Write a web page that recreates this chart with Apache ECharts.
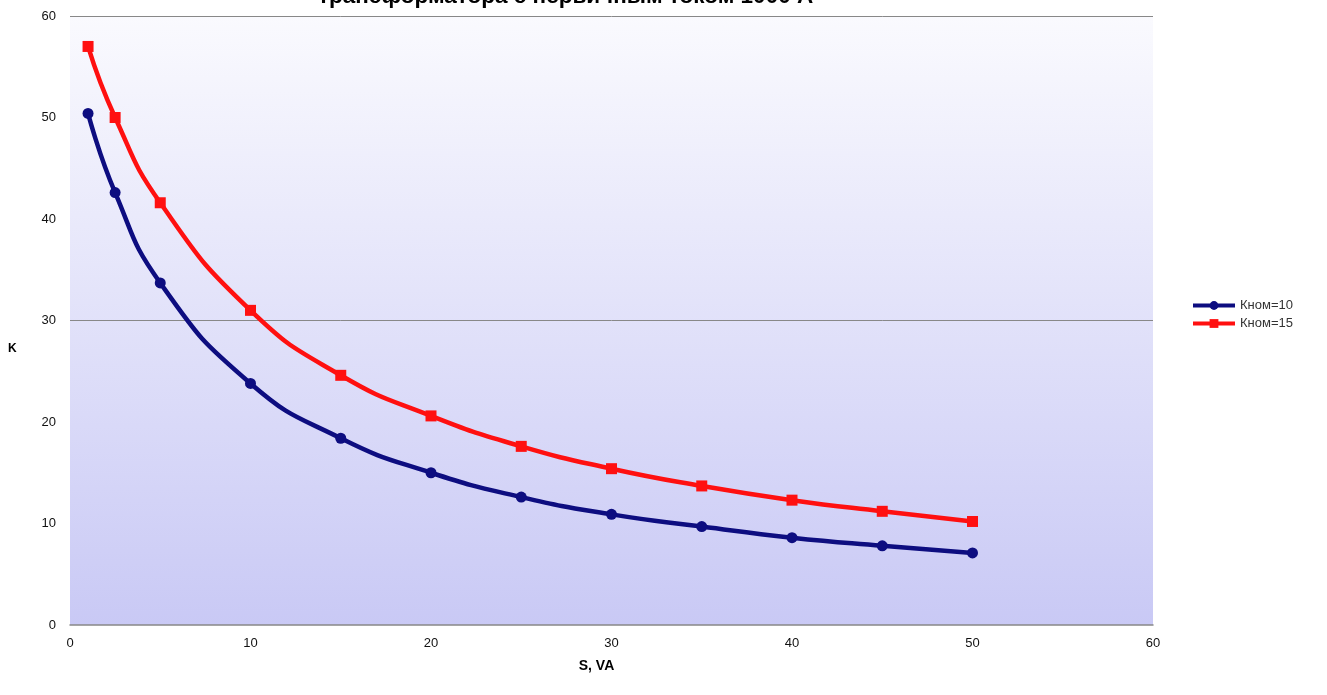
<!DOCTYPE html>
<html>
<head>
<meta charset="utf-8">
<script src="https://cdn.jsdelivr.net/npm/echarts@6/dist/echarts.min.js"></script>
<style>html,body{margin:0;padding:0;background:#fff}#c{width:1327px;height:695px}</style>
</head>
<body>
<div id="c"></div>
<script>
const sValues = [1, 2.5, 5, 10, 15, 20, 25, 30, 35, 40, 45, 50];
const kNom10 = [50.4, 42.6, 33.7, 23.8, 18.4, 15.0, 12.6, 10.9, 9.7, 8.6, 7.8, 7.1];
const kNom15 = [57.0, 50.0, 41.6, 31.0, 24.6, 20.6, 17.6, 15.4, 13.7, 12.3, 11.2, 10.2];
const seriesNames = ['Кном=10', 'Кном=15'];
const titleText = 'трансформатора с первичным током 1000 А';
const xName = 'S, VA';
const yName = 'K';

const chart = echarts.init(document.getElementById('c'));
const pair = (ys) => sValues.map((x, i) => [x, ys[i]]);
const font = 'Liberation Sans, Arial, sans-serif';
chart.setOption({
  animation: false,
  textStyle: { fontFamily: font },
  title: {
    text: titleText, left: 313, top: -20,
    textStyle: { fontSize: 22.5, fontWeight: 'bold', color: '#000', fontFamily: font }
  },
  graphic: [{
    type: 'text', left: 8, top: 343,
    style: { text: yName, font: 'bold 12px Liberation Sans, Arial, sans-serif', fill: '#000' }
  }],
  legend: {
    orient: 'vertical', left: 1186, top: 294, itemWidth: 42, itemHeight: 11, itemGap: 5,
    textStyle: { fontSize: 13, color: '#333', fontFamily: font },
    lineStyle: { width: 4 },
    data: seriesNames
  },
  grid: {
    left: 70, right: 174, top: 16, bottom: 70, show: true, borderWidth: 0,
    backgroundColor: new echarts.graphic.LinearGradient(0, 0, 0, 1, [
      { offset: 0, color: '#fafafe' }, { offset: 1, color: '#c9c9f5' }
    ])
  },
  xAxis: {
    type: 'value', min: 0, max: 60, interval: 10,
    name: xName, nameLocation: 'middle', nameGap: 34,
    nameTextStyle: { fontSize: 14, fontWeight: 'bold', color: '#000', padding: [0, 0, 0, -30] },
    axisLine: { show: true, lineStyle: { color: '#888', width: 1.5 } },
    axisTick: { show: false },
    axisLabel: { fontSize: 13, color: '#111', margin: 12 },
    splitLine: { show: false }
  },
  yAxis: {
    type: 'value', min: 0, max: 60, interval: 10,
    axisLine: { show: false },
    axisTick: { show: false },
    axisLabel: { fontSize: 13, color: '#111', margin: 14 },
    splitLine: { show: true, lineStyle: { width: 1, color: ['transparent', 'transparent', 'transparent', '#888', 'transparent', 'transparent', '#888'] } }
  },
  series: [
    {
      name: seriesNames[0], type: 'line', smooth: 0.5, data: pair(kNom10),
      symbol: 'circle', symbolSize: 11,
      lineStyle: { color: '#0d0d80', width: 4.5 }, itemStyle: { color: '#0d0d80' }
    },
    {
      name: seriesNames[1], type: 'line', smooth: 0.5, data: pair(kNom15),
      symbol: 'rect', symbolSize: 11,
      lineStyle: { color: '#ff1010', width: 4.5 }, itemStyle: { color: '#ff1010' }
    }
  ]
});
</script>
</body>
</html>
